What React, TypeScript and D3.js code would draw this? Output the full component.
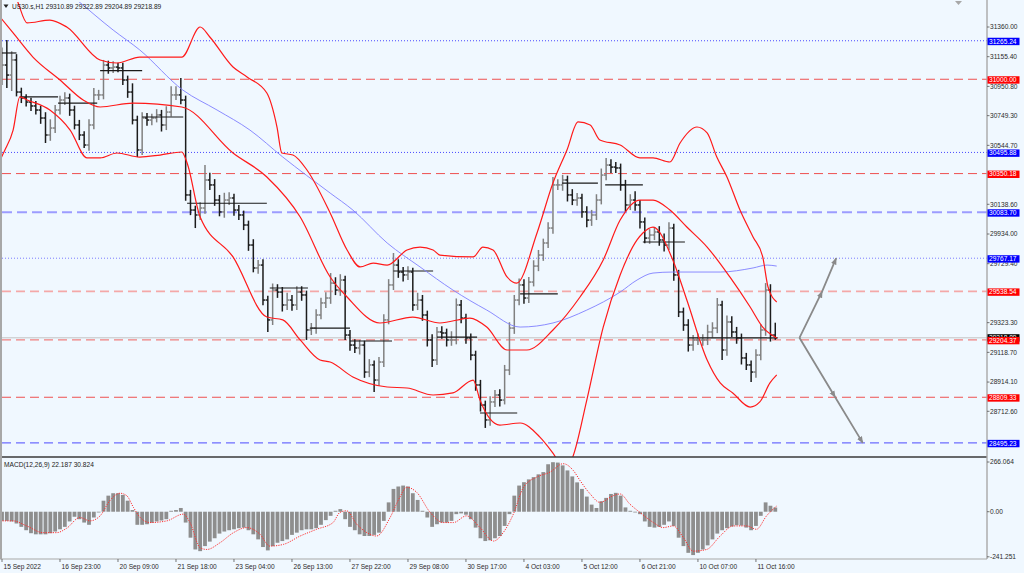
import React from "react";
import * as d3 from "d3";

const W = 1024;
const H = 573;

// ---------------- data ----------------
const titleSymbol = "US30.s,H1";
const lastOHLC = [29310.89, 29322.89, 29204.89, 29218.89];
const macdTitle = "MACD(12,26,9) 22.187 30.824";
const firstOpen = 31060;

// aggregated H1 bars (each slot ~2.7 hours), close prices
const closes = [
  31098, 31029, 31133, 30912, 30871, 30843, 30816, 30788, 30733, 30616,
  30664, 30788, 30857, 30871, 30788, 30685, 30616, 30547, 30685, 30892,
  30892, 31098, 31078, 31084, 31078, 30995, 30912, 30719, 30513, 30733,
  30719, 30733, 30754, 30685, 30774, 30892, 30892, 30857, 30203, 30099,
  30065, 30113, 30306, 30272, 30168, 30086, 30168, 30182, 30099, 30065,
  29996, 29858, 29700, 29720, 29479, 29342, 29548, 29534, 29445, 29479,
  29445, 29534, 29514, 29273, 29286, 29376, 29459, 29493, 29596, 29548,
  29617, 29238, 29169, 29149, 29169, 28983, 29032, 28928, 29052, 29342,
  29583, 29720, 29672, 29652, 29672, 29445, 29479, 29376, 29204, 29066,
  29259, 29252, 29204, 29204, 29445, 29355, 29218, 29100, 28894, 28756,
  28653, 28777, 28825, 28790, 28997, 29286, 29479, 29583, 29493, 29603,
  29713, 29789, 29872, 29975, 30272, 30272, 30306, 30203, 30168, 30182,
  30086, 30030, 30065, 30168, 30340, 30409, 30395, 30389, 30272, 30134,
  30168, 30134, 30017, 29906, 29927, 29948, 29893, 29858, 29975, 29652,
  29397, 29307, 29169, 29204, 29204, 29204, 29259, 29286, 29445, 29135,
  29328, 29259, 29218, 29080, 29032, 28983, 29100, 29273, 29548, 29238,
  29218.89,
];
// how far each bar's high reaches above max(open, close)
const hiExt = [
  120, 172, 60, 40, 30, 25, 30, 35, 30, 40,
  60, 35, 30, 40, 30, 30, 35, 25, 40, 48,
  35, 35, 30, 40, 30, 35, 30, 60, 30, 40,
  35, 30, 40, 35, 40, 60, 60, 117, 30, 35,
  30, 40, 103, 50, 40, 35, 50, 40, 30, 35,
  30, 30, 40, 35, 40, 30, 45, 40, 35, 50,
  35, 40, 40, 30, 35, 40, 35, 40, 69, 40,
  40, 30, 35, 40, 35, 30, 40, 30, 35, 40,
  40, 83, 40, 35, 40, 30, 50, 35, 30, 40,
  35, 40, 30, 60, 45, 35, 30, 30, 30, 35,
  30, 40, 35, 40, 35, 40, 35, 45, 40, 35,
  40, 35, 30, 40, 55, 40, 35, 30, 40, 35,
  30, 40, 35, 40, 45, 49, 40, 35, 30, 35,
  40, 60, 35, 30, 40, 35, 40, 45, 40, 30,
  35, 30, 40, 35, 45, 40, 50, 40, 48, 30,
  45, 40, 35, 30, 35, 30, 40, 40, 48, 40,
  85,
];
// how far each bar's low reaches below min(open, close)
const loExt = [
  100, 90, 110, 30, 35, 30, 35, 30, 40, 55,
  40, 35, 30, 35, 40, 30, 35, 20, 40, 30,
  35, 30, 40, 35, 30, 35, 40, 30, 49, 35,
  40, 35, 30, 45, 35, 30, 35, 30, 40, 35,
  90, 35, 40, 35, 40, 30, 40, 35, 40, 35,
  35, 40, 30, 40, 35, 83, 35, 40, 45, 35,
  40, 35, 40, 69, 35, 40, 30, 35, 40, 35,
  40, 35, 40, 35, 45, 40, 35, 82, 40, 35,
  30, 35, 40, 45, 35, 40, 35, 40, 45, 48,
  35, 40, 45, 40, 30, 35, 40, 35, 40, 45,
  55, 40, 35, 45, 30, 35, 40, 35, 40, 35,
  30, 35, 40, 35, 40, 35, 40, 45, 35, 40,
  40, 50, 40, 35, 30, 35, 40, 35, 40, 45,
  35, 40, 45, 35, 40, 35, 40, 45, 35, 40,
  35, 40, 45, 40, 35, 40, 35, 40, 35, 69,
  40, 35, 40, 45, 35, 69, 40, 35, 40, 45,
  14,
];

// MACD histogram per bar
const macdHist = [
  -49, -49, -52, -63, -81, -99, -115, -121, -121, -121,
  -115, -106, -94, -81, -52, -27, -40, -58, -70, -31,
  -4, 59, 86, 99, 99, 90, 59, 9, -70, -70,
  -67, -59, -52, -47, -40, 5, 9, 20, -58, -139,
  -202, -211, -184, -160, -142, -117, -106, -99, -94, -88,
  -85, -99, -121, -148, -189, -207, -184, -166, -157, -148,
  -124, -112, -99, -94, -94, -88, -70, -45, -22, 5,
  14, -40, -81, -99, -121, -130, -130, -124, -112, -49,
  50, 122, 135, 140, 135, 99, 63, 5, -31, -81,
  -67, -58, -58, -49, -13, -9, -16, -40, -85, -142,
  -157, -153, -142, -130, -76, -13, 86, 140, 158, 173,
  185, 200, 212, 254, 265, 263, 248, 221, 189, 157,
  122, 81, 38, 20, 56, 74, 95, 101, 86, 23,
  5, -4, -13, -52, -81, -85, -81, -70, -52, -76,
  -139, -184, -220, -232, -220, -202, -180, -148, -117, -99,
  -88, -79, -72, -74, -85, -99, -76, -22, 50, 32,
  22.187,
];
// MACD signal line [slot, value]
const macdSignal: [number, number][] = [
  [-0.4, -49], [2.3, -49], [5.1, -76], [8.5, -112], [11.3, -112], [13.4, -88], [16.1, -31],
  [18.2, -49], [20.3, -22], [22.3, 59], [24.4, 99], [25.8, 86], [27.2, 23], [28.6, -31],
  [30.6, -58], [34.1, -49], [37.5, -13], [38.9, -58], [41.0, -193], [42.4, -202], [45.1, -166],
  [47.9, -112], [50.6, -85], [53.4, -121], [55.4, -184], [58.2, -175], [61.7, -130], [65.1, -94],
  [68.5, -58], [69.9, -4], [71.3, 5], [73.4, -67], [75.5, -112], [77.5, -130], [80.3, -31],
  [82.3, 77], [83.7, 131], [85.8, 104], [88.6, -4], [91.3, -58], [93.4, -58], [96.1, -22],
  [98.9, -85], [101.7, -157], [103.7, -112], [105.8, -13], [107.9, 131], [110.6, 185],
  [113.4, 212], [116.1, 257], [118.2, 221], [119.6, 167], [121.7, 95], [123.7, 50],
  [126.5, 86], [127.9, 95], [129.9, 41], [132.0, -4], [134.8, -58], [136.8, -85], [138.9, -76],
  [141.0, -139], [143.0, -211], [145.8, -202], [148.6, -130], [151.3, -76], [154.1, -76],
  [156.1, -94], [158.2, -22], [160.3, 30.824],
];

// Bollinger bands [slot, price]
const bbUpper: [number, number][] = [
  [1.7, 31649], [3.1, 31546], [5.2, 31388], [9.9, 31408], [13.4, 31360], [20.3, 31133],
  [23.8, 31112], [28.5, 31153], [37.2, 31153], [41.0, 31360], [43.0, 31291], [47.8, 31084],
  [50.7, 31016], [54.8, 30905], [56.9, 30671], [57.9, 30492], [60.2, 30478], [63.1, 30375],
  [67.9, 30079], [71.4, 29824], [74.1, 29707], [76.8, 29734], [79.7, 29720], [83.8, 29824],
  [86.5, 29844], [89.2, 29824], [90.6, 29789], [97.5, 29776], [99.5, 29844], [101.6, 29824],
  [104.5, 29638], [106.5, 29596], [110.7, 29941], [114.0, 30285], [116.9, 30513],
  [119.2, 30706], [121.7, 30685], [123.7, 30582], [127.9, 30547], [132.0, 30458],
  [134.7, 30458], [138.2, 30430], [140.3, 30561], [143.8, 30671], [145.9, 30630],
  [147.9, 30464], [150.0, 30327], [152.7, 30099], [155.4, 29913], [157.4, 29776],
  [158.5, 29569], [160.3, 29466],
];
const bbMiddle: [number, number][] = [
  [-0.4, 31429], [2.3, 31319], [6.4, 31153], [12.0, 30995], [16.8, 30857], [20.3, 30809],
  [27.1, 30836], [37.2, 30809], [47.8, 30492], [54.8, 30327], [61.7, 30051], [67.9, 29638],
  [71.4, 29500], [78.2, 29321], [85.0, 29362], [90.6, 29321], [96.8, 29355], [100.3, 29293],
  [104.5, 29135], [108.6, 29135], [114.0, 29273], [119.6, 29500], [124.4, 29755],
  [127.9, 30030], [132.0, 30168], [134.7, 30168], [138.2, 30099], [141.7, 29982],
  [145.9, 29844], [150.6, 29638], [154.8, 29431], [157.4, 29293], [160.3, 29218],
];
const bbLower: [number, number][] = [
  [-0.4, 30444], [0.6, 30513], [2.3, 30650], [3.7, 30878], [5.2, 30857], [9.9, 30788],
  [14.1, 30650], [17.6, 30458], [20.3, 30458], [23.8, 30492], [28.5, 30464], [32.7, 30478],
  [37.2, 30499], [38.3, 30423], [41.0, 30051], [47.8, 29776], [54.8, 29362], [58.1, 29342],
  [61.7, 29204], [65.8, 29066], [67.9, 29052], [72.6, 28949], [79.7, 28880], [83.8, 28873],
  [89.2, 28825], [93.3, 28839], [97.5, 28928], [98.9, 28790], [103.0, 28618], [107.2, 28632],
  [111.3, 28535], [114.0, 28425], [116.5, 28308], [118.1, 28398], [121.0, 28790],
  [124.4, 29293], [127.9, 29652], [131.4, 29893], [132.6, 29941], [134.7, 29982],
  [138.8, 29755], [141.7, 29479], [145.9, 29066], [148.6, 28908], [151.2, 28839],
  [154.8, 28742], [156.8, 28777], [158.9, 28908], [160.3, 28963],
];
// long moving average [slot, price]
const maLong: [number, number][] = [
  [12.0, 31642], [15.5, 31546], [23.0, 31339], [28.5, 31202], [37.4, 30926], [44.5, 30788],
  [51.3, 30650], [58.1, 30464], [67.9, 30216], [72.6, 30099], [79.7, 29872], [86.5, 29707],
  [93.3, 29548], [100.3, 29410], [107.2, 29293], [114.0, 29321], [121.0, 29410],
  [127.9, 29534], [131.4, 29617], [134.7, 29665], [138.8, 29672], [148.6, 29672],
  [155.4, 29700], [158.3, 29720], [160.3, 29713],
];
// daily open segments [startSlot, endSlot, price]
const daySegments: [number, number, number][] = [
  [0, 3, 31181], [3.7, 11.6, 30878], [11.6, 19.7, 30836], [20.3, 29, 31060],
  [29, 37.5, 30740], [38.3, 54.8, 30146], [55.4, 63.3, 29562], [63.7, 72, 29286],
  [72, 80.7, 29197], [81, 89.2, 29679], [90, 98.3, 29224], [98.9, 106.6, 28701],
  [107.2, 115, 29521], [115.9, 123.3, 30285], [124.8, 132.6, 30272], [132.6, 141.3, 29879],
  [141.9, 158.3, 29218], [158.3, 160.4, 29218],
];

// horizontal levels
const levelPrices = [31265.24, 31000.0, 30495.88, 30350.18, 30083.7, 29767.17, 29538.54, 29204.37, 28809.33, 28495.23];
const levelKinds = ["blueDot", "redDash", "blueDot", "redDash", "blueThick", "blueDotLight", "redLight", "redMid", "redDash", "blueDash"];
const bidPrice = 29218.89;

// visible price-axis ticks (the rest sit behind the level labels)
const priceTicks = [31360.0, 31155.4, 30950.8, 30749.3, 30544.7, 30138.6, 29934.0, 29729.4, 29323.3, 29118.7, 28914.1, 28712.6];
const macdTicks = [266.064, 0, -241.251];
const macdTickLabels = ["266.064", "0.00", "-241.251"];

const timeLabels = [
  "15 Sep 2022", "16 Sep 23:00", "20 Sep 09:00", "21 Sep 18:00", "23 Sep 04:00",
  "26 Sep 13:00", "27 Sep 22:00", "29 Sep 08:00", "30 Sep 17:00", "4 Oct 03:00",
  "5 Oct 12:00", "6 Oct 21:00", "10 Oct 07:00", "11 Oct 16:00",
];
const timeLabelSlots = [0, 12, 24, 36, 48, 60, 72, 84, 96, 108, 120, 132, 144, 156];

// projection arrows [slot, price]
const arrowUp: [number, number][] = [[165, 29218.89], [169.7, 29538.54], [172.6, 29767.17]];
const arrowDown: [number, number][] = [[165, 29218.89], [172.4, 28809.33], [178.1, 28495.23]];

// ---------------- styles ----------------
const BG = "#f0f8ff";
const FONT = "'Liberation Sans', Arial, sans-serif";
const FS = 6.6;
const levelStyle: Record<string, { stroke: string; dash: string; width: number; box: string }> = {
  blueDot: { stroke: "#4848ff", dash: "1 2", width: 1, box: "#0000ff" },
  blueDotLight: { stroke: "#7c7cff", dash: "1 2", width: 1, box: "#0000ff" },
  redDash: { stroke: "#ee5050", dash: "9 5", width: 1, box: "#ff0000" },
  redLight: { stroke: "#f4a8a8", dash: "9 5", width: 1.6, box: "#ff0000" },
  redMid: { stroke: "#f08080", dash: "9 5", width: 1.2, box: "#ff0000" },
  blueThick: { stroke: "#9c9cff", dash: "10 5", width: 2.2, box: "#0000ff" },
  blueDash: { stroke: "#6c6cff", dash: "9 5", width: 1.2, box: "#0000ff" },
};

export default function App() {
  const L = 2, R = 987, T = 2, PB = 457, MT = 458, MB = 559;
  const x = d3.scaleLinear().domain([0, 203.6]).range([2, 986]);
  const y = d3.scaleLinear().domain([31360, 28712.6]).range([27, 411.3]);
  const ym = d3.scaleLinear().domain([266.064, -241.251]).range([462, 556.8]);

  const pline = d3
    .line<[number, number]>()
    .x((d) => x(d[0]))
    .y((d) => y(d[1]))
    .curve(d3.curveMonotoneX);
  const mline = d3
    .line<[number, number]>()
    .x((d) => x(d[0]))
    .y((d) => ym(d[1]))
    .curve(d3.curveMonotoneX);
  const aline = d3
    .line<[number, number]>()
    .x((d) => x(d[0]))
    .y((d) => y(d[1]));

  const bars = closes.map((c, i) => {
    const o = i === 0 ? firstOpen : closes[i - 1];
    const h = Math.max(o, c) + hiExt[i];
    const l = Math.min(o, c) - loExt[i];
    return { i, o, c, h, l };
  });

  const titleText = `${titleSymbol}  ${lastOHLC.map((v) => v.toFixed(2)).join(" ")}`;

  return (
    <svg
      width={W}
      height={H}
      style={{ position: "absolute", left: 0, top: 0, display: "block" }}
      fontFamily={FONT}
    >
      <defs>
        <clipPath id="pc">
          <rect x={L} y={T} width={R - L} height={PB - T} />
        </clipPath>
        <clipPath id="mc">
          <rect x={L} y={MT} width={R - L} height={MB - MT} />
        </clipPath>
        <marker id="ah" viewBox="0 0 10 10" refX="9" refY="5" markerWidth="7" markerHeight="7" markerUnits="userSpaceOnUse" orient="auto">
          <path d="M0,1 L10,5 L0,9 z" fill="#8a8a8a" />
        </marker>
      </defs>
      <rect x={0} y={0} width={W} height={H} fill={BG} />

      {/* price panel */}
      <g clipPath="url(#pc)">
        {levelPrices.map((p, k) => {
          const s = levelStyle[levelKinds[k]];
          return (
            <line key={"lv" + k} x1={L} x2={R} y1={y(p)} y2={y(p)} stroke={s.stroke} strokeWidth={s.width} strokeDasharray={s.dash} />
          );
        })}
        <line x1={L} x2={R} y1={y(bidPrice)} y2={y(bidPrice)} stroke="#c4c4c4" strokeWidth={1} />

        {bars.map((b) => {
          const cx = x(b.i);
          const col = b.c >= b.o ? "#808080" : "#1c1c1c";
          return (
            <g key={"b" + b.i} stroke={col} strokeWidth={1.5}>
              <line x1={cx} x2={cx} y1={y(b.h)} y2={y(b.l)} />
              <line x1={cx - 2.2} x2={cx} y1={y(b.o)} y2={y(b.o)} />
              <line x1={cx} x2={cx + 2.2} y1={y(b.c)} y2={y(b.c)} />
            </g>
          );
        })}

        {daySegments.map((s, k) => (
          <line key={"ds" + k} x1={x(s[0])} x2={x(s[1])} y1={y(s[2])} y2={y(s[2])} stroke="#1a1a1a" strokeWidth={1.2} />
        ))}

        <path d={pline(maLong) || ""} fill="none" stroke="#7f7fff" strokeWidth={0.9} />
        <path d={pline(bbUpper) || ""} fill="none" stroke="#ff1a1a" strokeWidth={1.2} />
        <path d={pline(bbMiddle) || ""} fill="none" stroke="#ff1a1a" strokeWidth={1.2} />
        <path d={pline(bbLower) || ""} fill="none" stroke="#ff1a1a" strokeWidth={1.2} />

        <path d={aline(arrowUp) || ""} fill="none" stroke="#8a8a8a" strokeWidth={1.8} markerMid="url(#ah)" markerEnd="url(#ah)" />
        <path d={aline(arrowDown) || ""} fill="none" stroke="#8a8a8a" strokeWidth={1.8} markerMid="url(#ah)" markerEnd="url(#ah)" />
      </g>

      {/* title */}
      <path d="M3.5,4.5 L8.5,4.5 L6,8 z" fill="#222" />
      <text x={12} y={9} fontSize={FS} fill="#222">
        {titleText}
      </text>
      <path d="M955,1 L962,1 L958.5,5 z" fill="#a8a8a8" />

      {/* MACD panel */}
      <g clipPath="url(#mc)">
        {macdHist.map((v, i) => {
          const y0 = ym(0);
          const y1 = ym(v);
          return (
            <rect key={"h" + i} x={x(i) - 1.9} width={3.8} y={Math.min(y0, y1)} height={Math.max(0.6, Math.abs(y1 - y0))} fill="#8e8e8e" />
          );
        })}
        <path d={mline(macdSignal) || ""} fill="none" stroke="#ff3030" strokeWidth={1} strokeDasharray="1.2 1.2" />
      </g>
      <text x={4} y={467} fontSize={FS} fill="#222">
        {macdTitle}
      </text>

      {/* frame */}
      <rect x={0} y={0} width={2} height={MB} fill="#a8a8a8" />
      <line x1={L} x2={R} y1={PB} y2={PB} stroke="#3a3a3a" strokeWidth={1.6} />
      <line x1={0} x2={R} y1={MB} y2={MB} stroke="#a8a8a8" strokeWidth={1.2} />
      <line x1={R} x2={R} y1={0} y2={MB} stroke="#a8a8a8" strokeWidth={1.4} />

      {/* price axis */}
      {priceTicks.map((p, k) => (
        <g key={"pt" + k}>
          <line x1={R} x2={R + 2.5} y1={y(p)} y2={y(p)} stroke="#555" strokeWidth={0.8} />
          <text x={990} y={y(p) + 2.3} fontSize={FS} fill="#2a2a2a">
            {p.toFixed(2)}
          </text>
        </g>
      ))}
      {/* bid label */}
      <rect x={R + 0.5} y={y(bidPrice) - 3.6} width={32} height={7.4} fill="#000" />
      <text x={989} y={y(bidPrice) + 2.3} fontSize={FS} fill="#fff">
        {bidPrice.toFixed(2)}
      </text>
      {levelPrices.map((p, k) => {
        const s = levelStyle[levelKinds[k]];
        return (
          <g key={"lb" + k}>
            <rect x={R + 0.5} y={y(p) - 3} width={32} height={7.4} fill={s.box} />
            <text x={989} y={y(p) + 2.9} fontSize={FS} fill="#fff">
              {p.toFixed(2)}
            </text>
          </g>
        );
      })}

      {/* MACD axis */}
      {macdTicks.map((v, k) => (
        <g key={"mt" + k}>
          <line x1={R} x2={R + 2.5} y1={ym(v)} y2={ym(v)} stroke="#555" strokeWidth={0.8} />
          <text x={990} y={ym(v) + 2.3} fontSize={FS} fill="#2a2a2a">
            {macdTickLabels[k]}
          </text>
        </g>
      ))}

      {/* time axis */}
      {timeLabels.map((t, k) => {
        const tx = x(timeLabelSlots[k]);
        return (
          <g key={"tl" + k}>
            <line x1={tx} x2={tx} y1={MB} y2={MB + 3} stroke="#555" strokeWidth={0.8} />
            <text x={tx + 1.5} y={568.5} fontSize={FS} fill="#2a2a2a">
              {t}
            </text>
          </g>
        );
      })}
    </svg>
  );
}
